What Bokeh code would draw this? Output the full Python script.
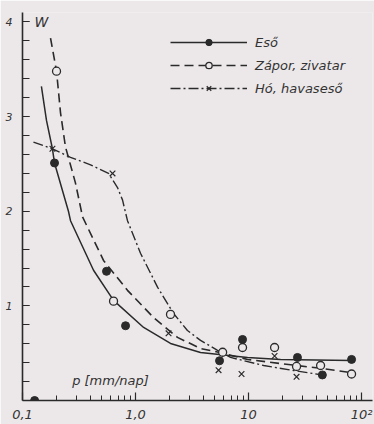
from bokeh.plotting import figure
from bokeh.models import Range1d, FixedTicker, Legend, LegendItem, Label
from bokeh.embed import file_html
from bokeh.resources import INLINE

# ---- data ----
# Eső (rain): measured points
eso_p = [0.128, 0.192, 0.554, 0.816, 5.54, 8.85, 27.1, 45.0, 81.6]
eso_w = [0.0, 2.51, 1.365, 0.79, 0.42, 0.645, 0.455, 0.27, 0.434]
# Eső fitted curve
eso_fit_p = [0.147, 0.163, 0.184, 0.192, 0.255, 0.266, 0.425, 0.639, 1.18, 2.04, 3.76, 9.8, 19.2, 81.6]
eso_fit_w = [3.32, 2.96, 2.66, 2.51, 2.0, 1.90, 1.376, 1.058, 0.772, 0.603, 0.508, 0.455, 0.434, 0.423]

# Zápor, zivatar (showers, thunderstorms): points
zapor_p = [0.2, 0.639, 2.04, 5.9, 8.85, 17.0, 26.6, 43.4, 81.6]
zapor_w = [3.48, 1.05, 0.91, 0.51, 0.56, 0.56, 0.36, 0.37, 0.28]
zapor_fit_p = [0.177, 0.2, 0.217, 0.240, 0.294, 0.340, 0.521, 0.849, 1.44, 2.35, 3.76, 5.9, 9.8, 19.2, 43.4, 80.0]
zapor_fit_w = [3.83, 3.48, 3.04, 2.68, 2.30, 1.94, 1.48, 1.164, 0.878, 0.667, 0.55, 0.50, 0.434, 0.39, 0.34, 0.296]

# Hó, havaseső (snow, sleet): points
ho_p = [0.184, 0.626, 1.96, 5.43, 8.67, 17.0, 26.6]
ho_w = [2.66, 2.40, 0.71, 0.32, 0.28, 0.47, 0.25]
ho_fit_p = [0.125, 0.184, 0.266, 0.4, 0.577, 0.693, 0.767, 0.849, 1.107, 1.57, 2.17, 2.88, 3.76, 5.32, 6.93, 13.6, 25.0, 45.0]
ho_fit_w = [2.73, 2.66, 2.57, 2.49, 2.40, 2.25, 2.12, 1.90, 1.556, 1.196, 0.92, 0.74, 0.635, 0.53, 0.455, 0.37, 0.317, 0.27]

x_major = [0.1, 1.0, 10.0, 100.0]
x_labels = ["0,1", "1,0", "10", "10²"]
y_major = [1, 2, 3, 4]
y_labels = ["1", "2", "3", "4"]

series_names = ["Eső", "Zápor, zivatar", "Hó, havaseső"]

# ---- style ----
BG = "#ECE8EA"
INK = "#2a2a2a"
TXT = "#333333"
FONT = "DejaVu Sans"

p = figure(width=374, height=424, x_axis_type="log",
           x_range=Range1d(0.1, 125), y_range=Range1d(0, 4.1),
           output_backend="svg", toolbar_location=None,
           background_fill_color=BG, border_fill_color=BG,
           min_border_left=22, min_border_right=2, min_border_top=12, min_border_bottom=24)
p.grid.visible = False
p.outline_line_color = None

# axes
p.xaxis.ticker = FixedTicker(ticks=x_major,
                             minor_ticks=[m * d for d in (0.1, 1.0, 10.0) for m in range(2, 10)])
p.xaxis.major_label_overrides = dict(zip(x_major, x_labels))
p.yaxis.ticker = FixedTicker(ticks=y_major, minor_ticks=[i * 0.2 for i in range(1, 21)])
p.yaxis.major_label_overrides = dict(zip(y_major, y_labels))
for ax in (p.xaxis, p.yaxis):
    ax.axis_line_color = INK
    ax.axis_line_width = 1.6
    ax.major_tick_line_color = INK
    ax.minor_tick_line_color = INK
    ax.major_tick_line_width = 1.2
    ax.minor_tick_line_width = 1.0
    ax.major_tick_out = 0
    ax.minor_tick_out = 0
    ax.major_label_text_font = FONT
    ax.major_label_text_font_style = "italic"
    ax.major_label_text_color = TXT
p.xaxis.major_tick_in = 8
p.xaxis.minor_tick_in = 5
p.xaxis.major_label_text_font_size = "13px"
p.xaxis.major_label_standoff = 6
p.yaxis.major_tick_in = 7
p.yaxis.minor_tick_in = 7
p.yaxis.major_label_text_font_size = "11px"
p.yaxis.major_label_standoff = 10

# curves
l1 = p.line(eso_fit_p, eso_fit_w, line_color=INK, line_width=1.5)
l2 = p.line(zapor_fit_p, zapor_fit_w, line_color=INK, line_width=1.6, line_dash="9 5")
l3 = p.line(ho_fit_p, ho_fit_w, line_color=INK, line_width=1.4, line_dash="10 3 2 3")

# points
s1 = p.scatter(eso_p, eso_w, marker="circle", size=8, fill_color=INK, line_color=INK)
s2 = p.scatter(zapor_p, zapor_w, marker="circle", size=8, fill_color=BG, line_color=INK, line_width=1.3)
s3 = p.scatter(ho_p, ho_w, marker="x", size=8, line_color=INK, line_width=1.2)

legend = Legend(items=[LegendItem(label=series_names[0], renderers=[l1, s1]),
                       LegendItem(label=series_names[1], renderers=[l2, s2]),
                       LegendItem(label=series_names[2], renderers=[l3, s3])],
                location=(148, 304), orientation="vertical",
                glyph_width=77, glyph_height=16, label_height=16, spacing=7,
                label_standoff=8, padding=0, margin=0,
                background_fill_alpha=0, border_line_alpha=0,
                label_text_font=FONT, label_text_font_style="italic",
                label_text_font_size="13px", label_text_color=TXT)
p.add_layout(legend)

p.add_layout(Label(x=19, y=379, x_units="screen", y_units="screen", text="W",
                   text_font=FONT, text_font_style="italic", text_font_size="14px",
                   text_color=TXT, text_align="center", text_baseline="middle"))
p.add_layout(Label(x=88, y=20, x_units="screen", y_units="screen", text="p [mm/nap]",
                   text_font=FONT, text_font_style="italic", text_font_size="13px",
                   text_color=TXT, text_align="center", text_baseline="middle"))

html = file_html(p, INLINE)
html = html.replace("<body>", '<body style="background-color:#ECE8EA">', 1)
open("out.html", "w").write(html)
